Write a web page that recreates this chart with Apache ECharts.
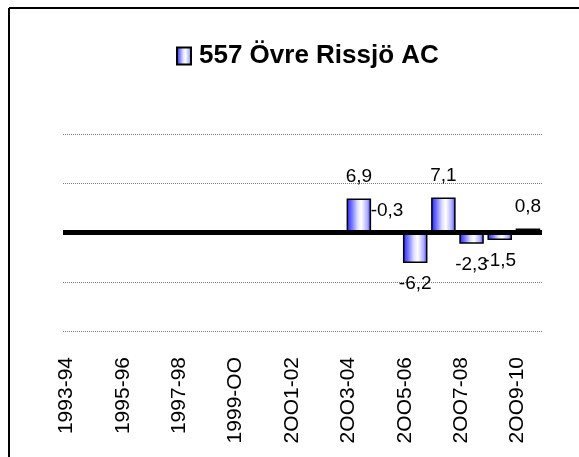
<!DOCTYPE html>
<html>
<head>
<meta charset="utf-8">
<script src="https://cdn.jsdelivr.net/npm/echarts@6/dist/echarts.min.js"></script>
<style>
html,body{margin:0;padding:0;background:#fff;}
#chart{width:579px;height:457px;}
</style>
</head>
<body>
<div id="chart"></div>
<script>
var seriesName = '557 Övre Rissjö AC';
var categories = ['1993-94','1994-95','1995-96','1996-97','1997-98','1998-99','1999-OO','2OOO-01','2OO1-02','2OO2-03','2OO3-04','2OO4-05','2OO5-06','2OO6-07','2OO7-08','2OO8-09','2OO9-10'];
var values = [null,null,null,null,null,null,null,null,null,null,6.9,-0.3,-6.2,7.1,-2.3,-1.5,0.8];
var yMin = -20, yMax = 20, yStep = 10;

var FONT = '"Liberation Sans", Arial, sans-serif';
var barFill = new echarts.graphic.LinearGradient(0, 0, 1, 0, [
  {offset: 0, color: '#2020ff'},
  {offset: 0.18, color: '#6666ff'},
  {offset: 0.45, color: '#e0e0ff'},
  {offset: 0.6, color: '#ffffff'},
  {offset: 0.85, color: '#acacff'},
  {offset: 1, color: '#3030ff'}
]);

var barData = values.map(function (v) {
  if (v === null) return null;
  var above = v >= 0 || Math.abs(v) < 0.5;
  return {
    value: v,
    label: {position: above ? 'top' : 'bottom', distance: above ? 12 : 11}
  };
});

var chart = echarts.init(document.getElementById('chart'), null, {renderer: 'canvas'});
chart.setOption({
  animation: false,
  backgroundColor: '#fff',
  textStyle: {fontFamily: FONT},
  graphic: [
    {type: 'line', shape: {x1: 9, y1: 8, x2: 579, y2: 8}, style: {stroke: '#000', lineWidth: 2}},
    {type: 'line', shape: {x1: 9, y1: 8, x2: 9, y2: 457}, style: {stroke: '#000', lineWidth: 2}}
  ],
  legend: {
    left: 171,
    top: 38,
    icon: 'rect',
    itemWidth: 14,
    itemHeight: 17,
    textStyle: {fontFamily: FONT, fontSize: 26, fontWeight: 'bold', color: '#000', padding: [0, 0, 0, 3]},
    data: [seriesName]
  },
  grid: {left: 63, right: 37, top: 134, bottom: 126, containLabel: false},
  xAxis: {
    type: 'category',
    data: categories,
    boundaryGap: true,
    axisLine: {show: false},
    axisTick: {show: false},
    splitLine: {show: false},
    axisLabel: {
      interval: 1,
      rotate: 90,
      margin: 26,
      verticalAlign: 'bottom',
      fontFamily: FONT,
      fontSize: 21,
      color: '#000'
    }
  },
  yAxis: {
    type: 'value',
    min: yMin,
    max: yMax,
    interval: yStep,
    axisLine: {show: false},
    axisTick: {show: false},
    axisLabel: {show: false},
    splitLine: {lineStyle: {color: '#7a7a7a', type: [1, 1], width: 1}}
  },
  series: [{
    name: seriesName,
    type: 'bar',
    data: barData,
    barCategoryGap: '13%',
    itemStyle: {color: barFill, borderColor: '#000', borderWidth: 1.5},
    label: {
      show: true,
      fontFamily: FONT,
      fontSize: 19,
      color: '#000',
      formatter: function (p) { return String(p.value).replace('.', ','); }
    },
    markLine: {
      silent: true,
      symbol: ['none', 'none'],
      label: {show: false},
      lineStyle: {color: '#000', width: 5, type: 'solid'},
      data: [{yAxis: 0}]
    }
  }]
});
</script>
</body>
</html>
